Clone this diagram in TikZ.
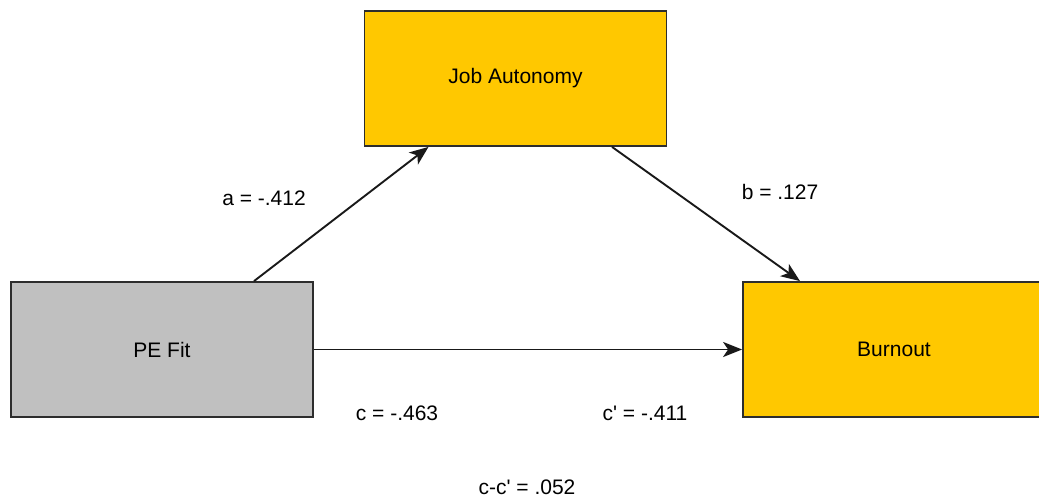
\documentclass[tikz,border=0pt]{standalone}
\usepackage{fontspec}
\setmainfont{Liberation Sans}
\usetikzlibrary{arrows.meta}
\definecolor{gold}{RGB}{255,200,0}
\definecolor{fitgray}{RGB}{192,192,192}
\definecolor{edge}{RGB}{45,45,45}
\newcommand{\prm}{\textquotesingle}
\tikzset{
  box/.style={draw=edge, line width=1.8pt, minimum width=302pt, minimum height=135pt,
    inner sep=0pt, font=\fontsize{21}{25}\selectfont},
  path/.style={draw=black!90, line width=1.9pt,
    -{Stealth[length=19pt,width=15pt,inset=5pt]}},
  coef/.style={font=\fontsize{21}{25}\selectfont, inner sep=0pt}
}
\begin{document}
\begin{tikzpicture}[x=1pt,y=-1pt]
\useasboundingbox (0,0) rectangle (1039,497);
\node[box, fill=gold] (ja) at (515.5,78.5) {Job Autonomy};
\node[box, fill=fitgray] (pe) at (162,349.5) {PE Fit};
\node[box, fill=gold] (bo) at (894,349.5) {Burnout};
\draw[path] ([xshift=92pt]pe.north) -- ([xshift=-87pt]ja.south);
\draw[path] ([xshift=96.5pt]ja.south) -- ([xshift=-94pt]bo.north);
\draw[path] (pe.east) -- (bo.west);
\node[coef] (la) at (264,198) {a = -.412};
\node[coef] (lb) at (780,192) {b = .127};
\node[coef] (lc) at (397,413) {c = -.463};
\node[coef] (lcp) at (645,413) {c\prm{} = -.411};
\node[coef] (ld) at (527,487) {c-c\prm{} = .052};
\end{tikzpicture}
\end{document}
